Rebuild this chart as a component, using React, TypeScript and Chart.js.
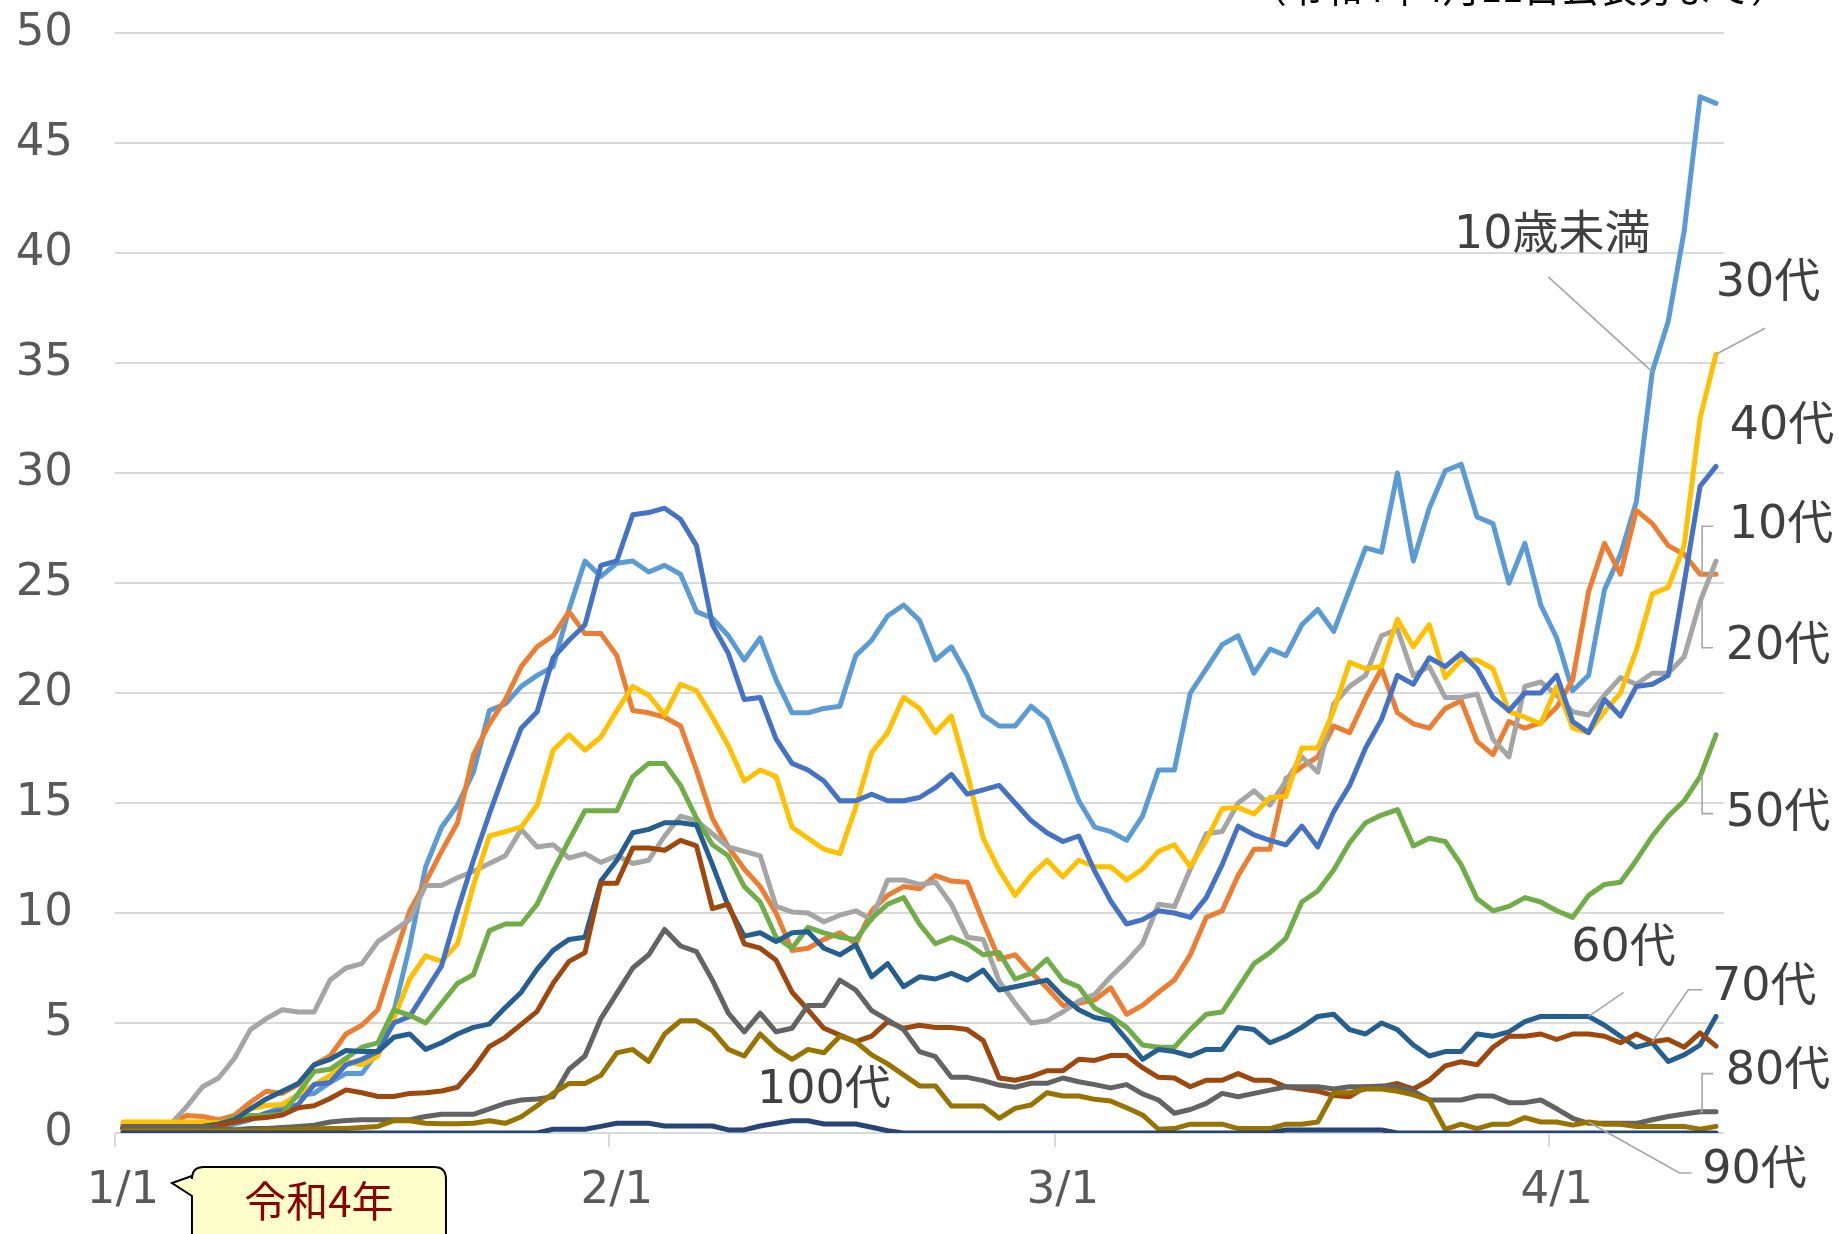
import React, { useEffect, useRef } from 'react';
import { Chart, registerables } from 'chart.js';

Chart.register(...registerables);

const W = 1839;
const H = 1234;
const FONT = '"DejaVu Sans", "Noto Sans CJK JP", sans-serif';
const CJK = '"Noto Sans CJK JP", "DejaVu Sans", sans-serif';

const dates: string[] = [
  '1/1','1/2','1/3','1/4','1/5','1/6','1/7','1/8','1/9','1/10','1/11','1/12','1/13','1/14','1/15','1/16','1/17','1/18','1/19','1/20','1/21','1/22','1/23','1/24','1/25','1/26','1/27','1/28','1/29','1/30','1/31',
  '2/1','2/2','2/3','2/4','2/5','2/6','2/7','2/8','2/9','2/10','2/11','2/12','2/13','2/14','2/15','2/16','2/17','2/18','2/19','2/20','2/21','2/22','2/23','2/24','2/25','2/26','2/27','2/28',
  '3/1','3/2','3/3','3/4','3/5','3/6','3/7','3/8','3/9','3/10','3/11','3/12','3/13','3/14','3/15','3/16','3/17','3/18','3/19','3/20','3/21','3/22','3/23','3/24','3/25','3/26','3/27','3/28','3/29','3/30','3/31',
  '4/1','4/2','4/3','4/4','4/5','4/6','4/7','4/8','4/9','4/10','4/11'
];
const shownTicks: string[] = ['1/1', '2/1', '3/1', '4/1'];
const yTicks: number[] = [0, 5, 10, 15, 20, 25, 30, 35, 40, 45, 50];

const under10: number[] = [
  0.3, 0.3, 0.3, 0.3, 0.4, 0.4, 0.3, 0.4, 0.6, 0.9,
  1.2, 1.7, 1.8, 2.3, 2.7, 2.7, 3.7, 5.5, 8.5, 12.1,
  13.9, 14.9, 16.4, 19.2, 19.5, 20.3, 20.8, 21.2, 23.8, 26.0,
  25.3, 25.9, 26.0, 25.5, 25.8, 25.4, 23.7, 23.4, 22.6, 21.5,
  22.5, 20.6, 19.1, 19.1, 19.3, 19.4, 21.7, 22.4, 23.5, 24.0,
  23.3, 21.5, 22.1, 20.8, 19.0, 18.5, 18.5, 19.4, 18.8, 17.0,
  15.1, 13.9, 13.7, 13.3, 14.4, 16.5, 16.5, 20.0, 21.1, 22.2,
  22.6, 20.9, 22.0, 21.7, 23.1, 23.8, 22.8, 24.7, 26.6, 26.4,
  30.0, 26.0, 28.4, 30.1, 30.4, 28.0, 27.7, 25.0, 26.8, 24.0,
  22.5, 20.1, 20.8, 24.7, 26.3, 28.7, 34.6, 36.9, 41.0, 47.1,
  46.8
];
const teens: number[] = [
  0.4, 0.4, 0.4, 0.4, 0.8, 0.75, 0.6, 0.8, 1.4, 1.9,
  1.8, 2.2, 3.1, 3.5, 4.5, 4.9, 5.6, 7.9, 10.1, 11.4,
  12.8, 14.1, 17.2, 18.6, 19.7, 21.2, 22.1, 22.6, 23.7, 22.7,
  22.7, 21.7, 19.2, 19.1, 18.9, 18.5, 16.5, 14.3, 13.0, 12.0,
  11.2, 10.0, 8.3, 8.4, 8.8, 9.1, 8.6, 10.1, 10.8, 11.2,
  11.1, 11.7, 11.45, 11.4, 9.6, 7.9, 8.1, 7.3, 6.6, 5.8,
  5.9, 6.05, 6.6, 5.4, 5.8, 6.4, 6.95, 8.1, 9.8, 10.1,
  11.7, 12.9, 12.9, 16.1, 16.65, 17.1, 18.5, 18.2, 19.75, 21.1,
  19.1, 18.6, 18.4, 19.3, 19.65, 17.8, 17.2, 18.7, 18.4, 18.65,
  19.35, 20.6, 24.6, 26.8, 25.4, 28.3, 27.7, 26.7, 26.3, 25.4,
  25.4
];
const twenties: number[] = [
  0.3, 0.3, 0.3, 0.4, 1.2, 2.1, 2.5, 3.4, 4.7, 5.2,
  5.6, 5.5, 5.5, 6.95, 7.5, 7.7, 8.7, 9.2, 9.7, 11.25,
  11.25, 11.6, 11.9, 12.25, 12.6, 13.8, 13.0, 13.1, 12.5, 12.7,
  12.3, 12.6, 12.25, 12.4, 13.5, 14.4, 14.2, 13.6, 13.0, 12.8,
  12.6, 10.3, 10.05, 10.0, 9.6, 9.9, 10.1, 9.7, 11.5, 11.5,
  11.3, 11.4, 10.4, 8.9, 8.8, 6.9, 5.9, 5.0, 5.1, 5.5,
  6.0, 6.3, 7.1, 7.8, 8.6, 10.4, 10.3, 12.0, 13.6, 13.7,
  15.0, 15.55, 14.9, 16.0, 17.1, 16.4, 19.5, 20.3, 20.8, 22.6,
  22.9, 20.8, 21.2, 19.8, 19.8, 19.95, 17.9, 17.1, 20.3, 20.5,
  19.9, 19.15, 19.0, 19.9, 20.7, 20.4, 20.9, 20.9, 21.65, 24.15,
  26.0
];
const thirties: number[] = [
  0.5, 0.5, 0.5, 0.5, 0.5, 0.5, 0.45, 0.65, 1.1, 1.25,
  1.3, 1.75, 2.2, 2.6, 3.25, 3.1, 3.5, 5.2, 7.0, 8.05,
  7.8, 8.6, 11.25, 13.5, 13.7, 13.9, 14.9, 17.4, 18.1, 17.4,
  18.0, 19.2, 20.3, 19.9, 19.0, 20.4, 20.1, 18.9, 17.6, 16.0,
  16.5, 16.2, 13.9, 13.4, 12.9, 12.7, 14.8, 17.3, 18.2, 19.8,
  19.3, 18.2, 18.95, 16.35, 13.4, 11.95, 10.8, 11.7, 12.4, 11.65,
  12.4, 12.1, 12.1, 11.5, 12.0, 12.8, 13.1, 12.1, 13.3, 14.75,
  14.8, 14.5, 15.25, 15.3, 17.5, 17.5, 19.2, 21.4, 21.1, 21.2,
  23.35, 22.1, 23.1, 20.7, 21.5, 21.5, 21.1, 19.15, 18.9, 18.6,
  20.3, 18.4, 18.2, 19.15, 20.0, 21.95, 24.5, 24.8, 26.7, 32.5,
  35.4
];
const forties: number[] = [
  0.2, 0.2, 0.2, 0.3, 0.3, 0.3, 0.4, 0.5, 0.65, 0.9,
  1.0, 1.3, 2.2, 2.3, 3.1, 3.35, 3.7, 5.0, 5.3, 6.45,
  7.6, 10.1, 12.4, 14.5, 16.5, 18.4, 19.15, 21.6, 22.4, 23.1,
  25.8, 26.0, 28.1, 28.2, 28.4, 27.9, 26.7, 23.1, 21.8, 19.7,
  19.8, 17.9, 16.8, 16.5, 16.0, 15.1, 15.1, 15.4, 15.1, 15.1,
  15.25, 15.7, 16.3, 15.4, 15.6, 15.8, 15.0, 14.2, 13.65, 13.25,
  13.5, 11.9, 10.55, 9.5, 9.7, 10.1, 10.0, 9.8, 10.7, 12.2,
  13.95, 13.55, 13.3, 13.1, 13.95, 13.0, 14.6, 15.8, 17.5, 18.8,
  20.8, 20.4, 21.6, 21.2, 21.8, 21.1, 19.8, 19.2, 20.0, 20.0,
  20.8, 18.7, 18.2, 19.7, 18.95, 20.3, 20.4, 20.8, 25.0, 29.4,
  30.3
];
const fifties: number[] = [
  0.2, 0.2, 0.2, 0.2, 0.3, 0.3, 0.4, 0.7, 0.8, 0.8,
  0.85, 1.8, 2.8, 2.9, 3.4, 3.9, 4.1, 5.6, 5.35, 5.0,
  5.9, 6.8, 7.2, 9.2, 9.5, 9.5, 10.4, 11.9, 13.3, 14.65,
  14.65, 14.65, 16.2, 16.8, 16.8, 15.8, 14.3, 13.1, 12.6, 11.2,
  10.5, 8.9, 8.4, 9.35, 9.1, 8.9, 8.8, 9.75, 10.4, 10.7,
  9.5, 8.6, 8.9, 8.6, 8.1, 8.2, 7.0, 7.26, 7.9, 6.95,
  6.65, 5.67, 5.3, 4.8, 4.0, 3.9, 3.9, 4.7, 5.4, 5.5,
  6.6, 7.7, 8.2, 8.85, 10.5, 11.0, 11.95, 13.2, 14.1, 14.45,
  14.7, 13.05, 13.4, 13.25, 12.2, 10.65, 10.1, 10.3, 10.7, 10.5,
  10.1, 9.8, 10.8, 11.3, 11.4, 12.4, 13.5, 14.4, 15.1, 16.2,
  18.1
];
const sixties: number[] = [
  0.2, 0.2, 0.2, 0.2, 0.3, 0.3, 0.4, 0.6, 1.1, 1.55,
  1.9, 2.25, 3.1, 3.35, 3.75, 3.7, 3.7, 4.35, 4.5, 3.8,
  4.1, 4.5, 4.8, 4.95, 5.7, 6.4, 7.45, 8.3, 8.8, 8.9,
  11.45, 12.4, 13.65, 13.8, 14.1, 14.1, 14.0, 12.2, 10.3, 8.95,
  9.1, 8.7, 9.1, 9.15, 8.4, 8.1, 8.55, 7.1, 7.7, 6.65,
  7.1, 7.0, 7.26, 6.95, 7.4, 6.5, 6.65, 6.8, 6.95, 6.2,
  5.6, 5.25, 5.1, 4.25, 3.35, 3.8, 3.7, 3.5, 3.8, 3.8,
  4.8, 4.7, 4.1, 4.4, 4.8, 5.3, 5.4, 4.7, 4.5, 5.0,
  4.7, 4.0, 3.5, 3.7, 3.7, 4.5, 4.4, 4.6, 5.06, 5.3,
  5.3, 5.3, 5.3, 4.9, 4.4, 3.9, 4.1, 3.25, 3.55, 4.0,
  5.3
];
const seventies: number[] = [
  0.2, 0.2, 0.2, 0.2, 0.2, 0.25, 0.35, 0.5, 0.65, 0.7,
  0.82, 1.15, 1.24, 1.57, 1.96, 1.83, 1.66, 1.66, 1.8, 1.83,
  1.91, 2.08, 2.92, 3.93, 4.35, 4.94, 5.53, 6.8, 7.8, 8.2,
  11.35, 11.35, 12.95, 12.95, 12.85, 13.3, 13.05, 10.2, 10.4, 8.6,
  8.4, 7.85, 6.4, 5.6, 4.76, 4.45, 4.15, 4.4, 5.06, 4.76,
  4.9, 4.8, 4.8, 4.7, 4.2, 2.5, 2.4, 2.56, 2.83, 2.83,
  3.35, 3.3, 3.52, 3.52, 2.97, 2.53, 2.5, 2.1, 2.4, 2.4,
  2.7, 2.4, 2.4, 2.1, 2.0, 1.9, 1.7, 1.65, 2.1, 2.1,
  2.25, 2.0, 2.4, 3.05, 3.24, 3.1, 3.9, 4.4, 4.4, 4.5,
  4.25, 4.5, 4.5, 4.4, 4.1, 4.5, 4.15, 4.25, 3.9, 4.55,
  3.95
];
const eighties: number[] = [
  0.3, 0.3, 0.3, 0.3, 0.3, 0.3, 0.2, 0.15, 0.2, 0.2,
  0.25, 0.3, 0.35, 0.5, 0.57, 0.6, 0.6, 0.6, 0.6, 0.75,
  0.85, 0.85, 0.85, 1.1, 1.35, 1.5, 1.55, 1.65, 2.9, 3.5,
  5.2, 6.35, 7.5, 8.1, 9.25, 8.5, 8.24, 6.95, 5.45, 4.6,
  5.45, 4.6, 4.76, 5.8, 5.8, 6.95, 6.5, 5.56, 5.14, 4.7,
  3.7, 3.47, 2.53, 2.53, 2.38, 2.18, 2.08, 2.26, 2.26, 2.5,
  2.33, 2.2, 2.05, 2.2, 1.78, 1.5, 0.9, 1.07, 1.35, 1.8,
  1.65, 1.8, 1.95, 2.1, 2.1, 2.1, 2.0, 2.1, 2.1, 2.14,
  2.1, 1.9, 1.5, 1.5, 1.5, 1.68, 1.68, 1.38, 1.38, 1.5,
  1.1, 0.67, 0.44, 0.44, 0.44, 0.44, 0.6, 0.75, 0.86, 0.97,
  0.97
];
const nineties: number[] = [
  0.1, 0.1, 0.1, 0.1, 0.1, 0.1, 0.1, 0.1, 0.1, 0.14,
  0.15, 0.17, 0.18, 0.2, 0.21, 0.25, 0.3, 0.56, 0.56, 0.44,
  0.42, 0.42, 0.44, 0.56, 0.44, 0.74, 1.24, 1.8, 2.25, 2.25,
  2.62, 3.64, 3.8, 3.25, 4.5, 5.1, 5.1, 4.65, 3.8, 3.5,
  4.5, 3.8, 3.35, 3.8, 3.65, 4.4, 4.15, 3.55, 3.14, 2.64,
  2.14, 2.14, 1.23, 1.23, 1.23, 0.67, 1.12, 1.27, 1.83, 1.68,
  1.68, 1.53, 1.45, 1.15, 0.82, 0.17, 0.2, 0.4, 0.4, 0.4,
  0.2, 0.2, 0.2, 0.4, 0.4, 0.5, 1.83, 1.83, 2.0, 2.0,
  1.9, 1.73, 1.5, 0.17, 0.4, 0.2, 0.4, 0.4, 0.7, 0.5,
  0.5, 0.36, 0.5, 0.4, 0.4, 0.3, 0.3, 0.3, 0.3, 0.17,
  0.3
];
const hundreds: number[] = [
  0, 0, 0, 0, 0, 0, 0, 0, 0, 0,
  0, 0, 0, 0, 0, 0, 0, 0, 0, 0,
  0, 0, 0, 0, 0, 0, 0, 0.17, 0.17, 0.17,
  0.3, 0.44, 0.44, 0.44, 0.32, 0.32, 0.32, 0.32, 0.14, 0.14,
  0.32, 0.44, 0.56, 0.56, 0.41, 0.41, 0.41, 0.26, 0.1, 0,
  0, 0, 0, 0, 0, 0, 0, 0, 0, 0,
  0, 0, 0, 0, 0, 0, 0, 0, 0, 0,
  0, 0, 0, 0.14, 0.14, 0.14, 0.14, 0.14, 0.14, 0.14,
  0, 0, 0, 0, 0, 0, 0, 0, 0, 0,
  0, 0, 0, 0, 0, 0, 0, 0, 0, 0,
  0
];

const seriesNames: string[] = ['10歳未満', '10代', '20代', '30代', '40代', '50代', '60代', '70代', '80代', '90代', '100代'];
const seriesValues: number[][] = [under10, teens, twenties, thirties, forties, fifties, sixties, seventies, eighties, nineties, hundreds];
const seriesColors: string[] = ['#5B9BD5', '#ED7D31', '#A5A5A5', '#FFC000', '#4472C4', '#70AD47', '#255E91', '#9E480E', '#636363', '#997300', '#264478'];

const titleMain = '年代別　直近1週間の人口10万人あたり新規陽性者数の推移';
const titleNote = '（令和4年4月11日公表分まで）';
const calloutText = '令和4年';

// data label annotations: anchored at a data point of a series, offsets in px
const labelSpecs = [
  { series: 0, index: 96, dx: -100, dy: -136, leader: [[-104, -95]] },
  { series: 3, index: 100, dx: 52, dy: -70, leader: [[49, -26]] },
  { series: 4, index: 100, dx: 66, dy: -39, leader: [] as number[][] },
  { series: 1, index: 99, dx: 81, dy: -48, leader: [[2, 0], [2, -48], [13, -48]] },
  { series: 2, index: 99, dx: 78, dy: 45, leader: [[2, 0], [2, 46], [13, 46]] },
  { series: 5, index: 99, dx: 78, dy: 37, leader: [[2, 0], [2, 37], [13, 37]] },
  { series: 6, index: 92, dx: 35, dy: -67, leader: [[35, -24]] },
  { series: 7, index: 96, dx: 112, dy: -54, leader: [[36, -52], [50, -52]] },
  { series: 8, index: 99, dx: 78, dy: -40, leader: [[2, 0], [2, -38], [13, -38]] },
  { series: 9, index: 92, dx: 166, dy: 49, leader: [[91, 51], [103, 51]] },
  { series: 10, index: 44, dx: 0, dy: -33, leader: [] as number[][] },
];

const bgPlugin = {
  id: 'bg',
  beforeDraw(chart: any) {
    const { ctx } = chart;
    ctx.save();
    ctx.fillStyle = '#FFFFFF';
    ctx.fillRect(0, 0, chart.width, chart.height);
    ctx.restore();
  },
};

const decorPlugin = {
  id: 'decor',
  afterDraw(chart: any) {
    const { ctx } = chart;
    // title (mostly above the visible area)
    ctx.save();
    ctx.font = `38px ${CJK}`;
    ctx.textBaseline = 'alphabetic';
    ctx.textAlign = 'right';
    ctx.fillStyle = '#1F3FE0';
    ctx.fillText(titleMain, 1062, -6);
    ctx.fillStyle = '#000000';
    ctx.fillText(titleNote, 1789, 2);
    ctx.restore();

    // data labels with leader lines
    labelSpecs.forEach((s) => {
      const meta = chart.getDatasetMeta(s.series);
      const pt = meta.data[s.index];
      if (!pt) return;
      const x = pt.x;
      const y = pt.y;
      if (s.leader.length) {
        ctx.save();
        ctx.strokeStyle = '#A6A6A6';
        ctx.lineWidth = 1.6;
        ctx.beginPath();
        ctx.moveTo(x, y);
        s.leader.forEach((p) => ctx.lineTo(x + p[0], y + p[1]));
        ctx.stroke();
        ctx.restore();
      }
      ctx.save();
      ctx.font = `46px ${FONT}`;
      ctx.fillStyle = '#404040';
      ctx.textAlign = 'center';
      ctx.textBaseline = 'middle';
      ctx.fillText(seriesNames[s.series], x + s.dx, y + s.dy);
      ctx.restore();
    });

    // callout "令和4年"
    const xs = chart.scales.x;
    const x0 = xs.getPixelForValue(0);
    const top = chart.chartArea.bottom + 34;
    const bx = x0 + 69;
    const bw = 254;
    const bh = 100;
    const r = 12;
    ctx.save();
    ctx.beginPath();
    ctx.moveTo(bx + r, top);
    ctx.lineTo(bx + bw - r, top);
    ctx.quadraticCurveTo(bx + bw, top, bx + bw, top + r);
    ctx.lineTo(bx + bw, top + bh - r);
    ctx.quadraticCurveTo(bx + bw, top + bh, bx + bw - r, top + bh);
    ctx.lineTo(bx + r, top + bh);
    ctx.quadraticCurveTo(bx, top + bh, bx, top + bh - r);
    ctx.lineTo(bx, top + 29);
    ctx.lineTo(x0 + 49, top + 16);
    ctx.lineTo(bx, top + 9);
    ctx.lineTo(bx, top + r);
    ctx.quadraticCurveTo(bx, top, bx + r, top);
    ctx.closePath();
    ctx.fillStyle = '#FFFFCC';
    ctx.fill();
    ctx.strokeStyle = '#000000';
    ctx.lineWidth = 2;
    ctx.stroke();
    ctx.font = `42px ${CJK}`;
    ctx.fillStyle = '#8B0000';
    ctx.textAlign = 'center';
    ctx.textBaseline = 'middle';
    ctx.fillText(calloutText, bx + bw / 2, top + 34);
    ctx.restore();
  },
};

export default function App() {
  const ref = useRef<HTMLCanvasElement | null>(null);

  useEffect(() => {
    document.body.style.margin = '0';
    const canvas = ref.current;
    if (!canvas) return;
    const n = seriesValues.length;
    const chart = new Chart(canvas, {
      type: 'line',
      data: {
        labels: dates,
        datasets: seriesValues.map((vals, i) => ({
          label: seriesNames[i],
          data: vals,
          borderColor: seriesColors[i],
          backgroundColor: seriesColors[i],
          borderWidth: 5,
          pointRadius: 0,
          pointHoverRadius: 0,
          tension: 0,
          fill: false,
          borderJoinStyle: 'round' as const,
          borderCapStyle: 'round' as const,
          order: n - i,
        })),
      },
      options: {
        responsive: false,
        animation: false,
        devicePixelRatio: 1,
        layout: { padding: { top: 33, right: 115, left: 0, bottom: 0 } },
        plugins: {
          legend: { display: false },
          tooltip: { enabled: false },
          title: { display: false },
        },
        events: [],
        scales: {
          x: {
            type: 'category',
            offset: true,
            grid: {
              offset: true,
              drawOnChartArea: false,
              drawTicks: true,
              tickLength: 14,
              lineWidth: 2,
              color: (c: any) =>
                c.type === 'tick' && shownTicks.includes(dates[c.index]) ? '#D9D9D9' : 'rgba(0,0,0,0)',
            },
            border: { display: false },
            ticks: {
              autoSkip: false,
              maxRotation: 0,
              minRotation: 0,
              padding: 17,
              color: '#595959',
              font: { family: FONT, size: 45 },
              callback: (_v: any, idx: number) => (shownTicks.includes(dates[idx]) ? dates[idx] : ''),
            },
            afterFit: (s: any) => {
              s.height = 101;
              s.paddingLeft = 0;
              s.paddingRight = 0;
            },
          },
          y: {
            min: 0,
            max: 50,
            afterBuildTicks: (s: any) => {
              s.ticks = yTicks.map((v) => ({ value: v }));
            },
            grid: { color: '#D9D9D9', lineWidth: 2, drawTicks: false },
            border: { display: false },
            ticks: {
              padding: 42,
              color: '#595959',
              font: { family: FONT, size: 45 },
            },
            afterFit: (s: any) => {
              s.width = 115;
              s.paddingTop = 0;
              s.paddingBottom = 0;
            },
          },
        },
      },
      plugins: [bgPlugin, decorPlugin],
    });
    return () => chart.destroy();
  }, []);

  return (
    <div style={{ width: W, height: H, position: 'relative', overflow: 'hidden', background: '#fff' }}>
      <canvas ref={ref} width={W} height={H} style={{ width: W, height: H, display: 'block' }} />
    </div>
  );
}
